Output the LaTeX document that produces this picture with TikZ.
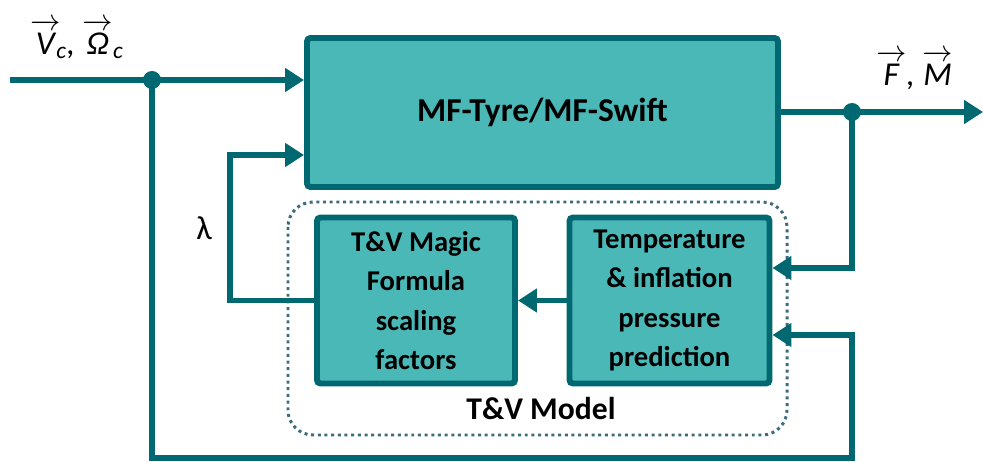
\documentclass[tikz,border=0pt]{standalone}
\usepackage{amsmath}
\usepackage{fontspec}
\setmainfont{Carlito}
\usepackage{tikz}
\usetikzlibrary{arrows.meta}
\definecolor{tvfill}{RGB}{75,184,184}
\definecolor{tvline}{RGB}{0,104,112}
\definecolor{tvdot}{RGB}{60,108,122}
\tikzset{%
    block/.style={%
        draw=tvline, fill=tvfill, line width=3.4pt, rounded corners=2pt,
        inner sep=0pt, align=center, font=\bfseries\fontsize{16.3}{22.5}\selectfont
    },
    link/.style={draw=tvline, line width=3.3pt},
    arr/.style={link, -{Triangle[length=0.38cm,width=0.46cm]}},
    joint/.style={fill=tvline},
    sig/.style={font=\fontsize{19}{22}\selectfont, anchor=west, inner ysep=1pt}
}
\newcommand{\vecit}[1]{\overrightarrow{\rule{0pt}{0.72em}\smash{\textit{#1}}}}

\begin{document}
\begin{tikzpicture}[x=0.02cm,y=-0.02cm]
\useasboundingbox (0,0) rectangle (983,462);
% blocks
\node[block, minimum width=471*0.02cm, minimum height=149*0.02cm] (mf) at (542.5,112.5)
    {\fontsize{19}{22}\selectfont MF-Tyre/MF-Swift};
\node[block, minimum width=198*0.02cm, minimum height=166*0.02cm] (scal) at (416,300.5)
    {T\&V Magic\\Formula\\scaling\\factors};
\node[block, minimum width=200*0.02cm, minimum height=166*0.02cm] (temp) at (669.5,300.5)
    {Temperature\\\& inflation\\pressure\\prediction};
% T&V model frame
\draw[tvdot, line width=1.7pt, dash pattern=on 1.7pt off 2.1pt, rounded corners=0.5cm]
    (288,202) rectangle (787,435);
\node[font=\bfseries\fontsize{18}{20}\selectfont] (model) at (541,409) {T\&V Model};
% signals
\coordinate (in) at (10,80);
\coordinate (j1) at (152,80);
\coordinate (out) at (983,112);
\coordinate (j2) at (852,112);
\coordinate (br) at (852,458);
\coordinate (lt) at (230,155);
\coordinate (tin1) at (temp.east |- 0,268);
\coordinate (tin2) at (temp.east |- 0,335);
\draw[arr] (in) -- (in -| mf.west);
\draw[arr] (mf.east |- out) -- (out);
\draw[arr] (j1) |- (br) |- (tin2);
\draw[arr] (j2) |- (tin1);
\draw[arr] (temp.west) -- (scal.east);
\draw[arr] (scal.west) -| (lt) -- (lt -| mf.west);
\fill[joint] (j1) circle (0.18cm);
\fill[joint] (j2) circle (0.18cm);
% labels
\node[font=\fontsize{19}{22}\selectfont] (lam) at (204,228) {λ};
\node[sig] (vin) at (24,39)
    {$\vecit{V}_{\!\textit{c}}$\textit{,} $\vecit{Ω}_{\textit{c}}$};
\node[sig] (fout) at (870,70)
    {$\vecit{F}$\textit{,} $\vecit{M}$};
\end{tikzpicture}
\end{document}
